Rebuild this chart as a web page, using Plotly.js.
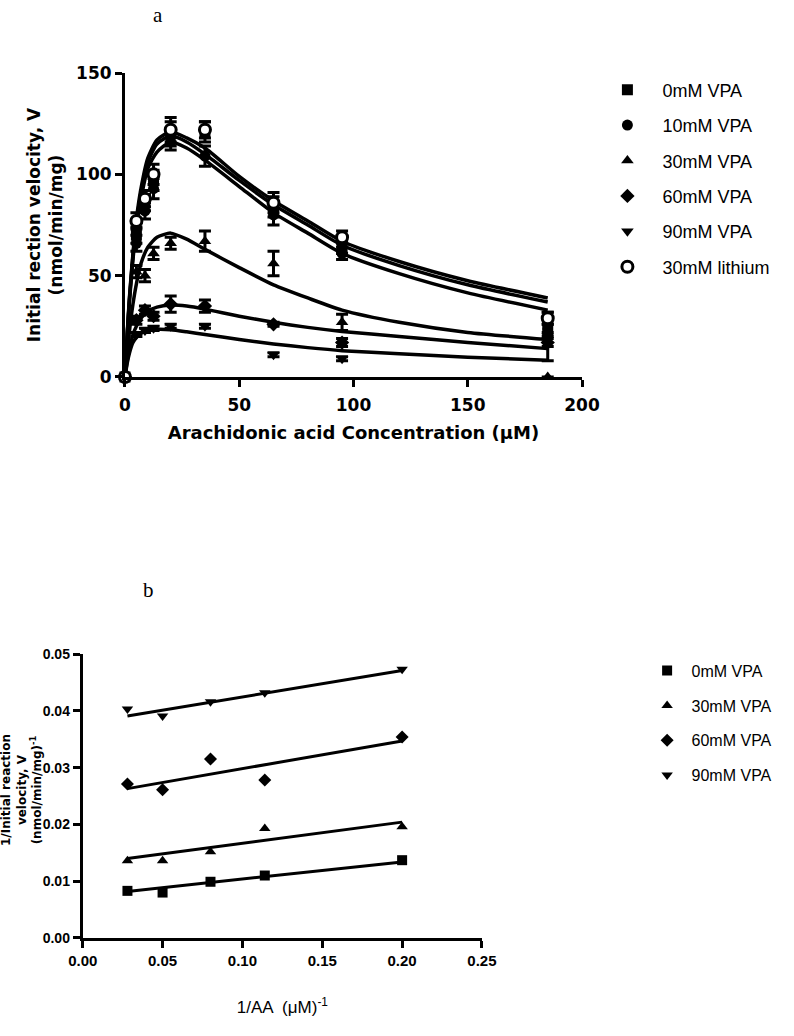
<!DOCTYPE html>
<html>
<head>
<meta charset="utf-8">
<script src="https://cdn.plot.ly/plotly-3.0.1.min.js"></script>
<style>
  body { margin: 0; background: #fff; }
  #chart { width: 794px; height: 1036px; }
</style>
</head>
<body>
<div id="chart"></div>
<script>
// Panel a: velocity vs arachidonic acid concentration (uM)
let conc = [0, 5, 8.75, 12.5, 20, 35, 65, 95, 185];

let v0 = [0, 70, 86, 97, 120, 121, 84, 64, 26];
let e0 = [0, 4, 4, 5, 6, 5, 5, 3, 4];
let v10 = [0, 66, 82, 93, 116, 109, 80, 61, 23];
let e10 = [0, 4, 4, 5, 4, 5, 5, 3, 3];
let v30 = [0, 52, 50, 61, 66, 67, 56, 27, 0];
let e30 = [0, 3, 3, 3, 3, 5, 6, 4, 0];
let v60 = [0, 28, 33, 30, 36, 35, 26, 17, 17];
let e60 = [0, 2, 2, 2, 4, 3, 1, 2, 2];
let v90 = [0, 21, 23, 24, 25, 25, 11, 9, 20];
let e90 = [0, 1, 1, 1, 1, 1, 1, 1, 12];
let vLi = [0, 77, 88, 100, 122, 122, 86, 69, 29];
let eLi = [0, 4, 4, 5, 6, 4, 5, 3, 3];

// fitted curves
let curveX = [0, 1, 2, 3.5, 5, 7, 10, 14, 20, 27, 35, 50, 65, 80, 95, 120, 150, 185];
let fitLi = [0, 22, 40, 61, 78, 93, 108, 117, 121, 118, 113, 99, 87, 77, 67, 57, 47.5, 39];
let fit0 = [0, 21, 39, 60, 76, 91, 106, 115, 119, 116, 110, 97, 85, 75, 65, 55, 45.5, 37];
let fit10 = [0, 21, 38, 58, 74, 88, 103, 111, 116, 113, 107, 94, 81, 71, 61, 51, 41.5, 33];
let fit30 = [0, 12, 23, 36, 46, 56, 64, 69, 71, 68, 63, 54, 45.5, 39, 33, 27, 22, 18.5];
let fit60 = [0, 8, 14, 21, 25, 29, 32.5, 34.5, 35.5, 35, 33.5, 30, 27, 24.5, 22.5, 20, 17, 14];
let fit90 = [0, 7, 12, 17, 19.5, 21.5, 23, 23.5, 23.3, 22.3, 21, 18.5, 16.3, 14.5, 13, 11.5, 9.8, 8.3];

// Panel b: double reciprocal plot
let recipX = [0.028, 0.05, 0.08, 0.114, 0.2];
let r0 = [0.0083, 0.0080, 0.0099, 0.0110, 0.0137];
let r30 = [0.0136, 0.0136, 0.0152, 0.0193, 0.0196];
let r60 = [0.0271, 0.0261, 0.0315, 0.0278, 0.0354];
let r90 = [0.0403, 0.0391, 0.0416, 0.0432, 0.0473];

let lineX = [0.028, 0.2];
let line0 = [0.0082, 0.0134];
let line30 = [0.0140, 0.0204];
let line60 = [0.0263, 0.0347];
let line90 = [0.0391, 0.0471];

function pts(name, y, err, symbol, open) {
  return {
    x: conc, y: y, name: '\u00a0\u00a0\u00a0' + name,
    type: 'scatter', mode: 'markers', cliponaxis: false,
    legend: 'legend', legendgroup: name,
    marker: {symbol: symbol, size: 11, color: open ? '#fff' : '#000',
             line: {color: '#000', width: open ? 3 : 0}},
    error_y: {type: 'data', array: err, color: '#000', thickness: 3, width: 6},
    xaxis: 'x', yaxis: 'y'
  };
}

function curve(y) {
  return {
    x: curveX, y: y, type: 'scatter', mode: 'lines', showlegend: false,
    line: {color: '#000', width: 3.5, shape: 'spline', smoothing: 0.6},
    xaxis: 'x', yaxis: 'y', hoverinfo: 'skip'
  };
}

function rpts(name, y, symbol) {
  return {
    x: recipX, y: y, name: '\u00a0' + name,
    type: 'scatter', mode: 'markers', cliponaxis: false,
    legend: 'legend2', legendgroup: 'b' + name,
    marker: {symbol: symbol, size: 10, color: '#000'},
    xaxis: 'x2', yaxis: 'y2'
  };
}

function rline(y) {
  return {
    x: lineX, y: y, type: 'scatter', mode: 'lines', showlegend: false,
    line: {color: '#000', width: 3},
    xaxis: 'x2', yaxis: 'y2', hoverinfo: 'skip'
  };
}

var data = [
  curve(fitLi), curve(fit0), curve(fit10), curve(fit30), curve(fit60), curve(fit90),
  pts('0mM VPA', v0, e0, 'square'),
  pts('10mM VPA', v10, e10, 'circle'),
  pts('30mM VPA', v30, e30, 'triangle-up'),
  pts('60mM VPA', v60, e60, 'diamond'),
  pts('90mM VPA', v90, e90, 'triangle-down'),
  pts('30mM lithium', vLi, eLi, 'circle', true),
  rline(line0), rline(line30), rline(line60), rline(line90),
  rpts('0mM VPA', r0, 'square'),
  rpts('30mM VPA', r30, 'triangle-up'),
  rpts('60mM VPA', r60, 'diamond'),
  rpts('90mM VPA', r90, 'triangle-down')
];

var boldA = {family: 'DejaVu Sans, Liberation Sans, sans-serif', size: 17, color: '#000', weight: 'bold'};
var boldB = {family: 'Liberation Sans, Arial, sans-serif', size: 14, color: '#000', weight: 'bold'};

var axisStyle = {
  showline: true, linewidth: 3, linecolor: '#000',
  ticks: 'outside', ticklen: 7, tickwidth: 3, tickcolor: '#000',
  showgrid: false, zeroline: false, fixedrange: true
};

var layout = {
  width: 794, height: 1036,
  margin: {l: 0, r: 0, t: 0, b: 0},
  paper_bgcolor: '#fff', plot_bgcolor: '#fff',
  font: {family: 'Liberation Sans, Arial, sans-serif', color: '#000'},
  xaxis: Object.assign({}, axisStyle, {
    domain: [0.1574, 0.733], anchor: 'y', range: [0, 200], dtick: 50,
    tickfont: boldA, ticklabelstandoff: 4,
    title: {text: 'Arachidonic acid Concentration (\u03bcM)', font: Object.assign({}, boldA, {size: 18}), standoff: 12}
  }),
  yaxis: Object.assign({}, axisStyle, {
    domain: [0.6361, 0.9295], anchor: 'x', range: [0, 150], dtick: 50,
    tickfont: boldA,
    title: {text: 'Initial rection velocity, V<br>(nmol/min/mg)', font: boldA, standoff: 10}
  }),
  xaxis2: Object.assign({}, axisStyle, {
    domain: [0.1042, 0.607], anchor: 'y2', range: [0, 0.25], dtick: 0.05, tickformat: '.2f',
    tickfont: Object.assign({}, boldB, {size: 15}),
    title: {text: '1/AA  (\u03bcM)<sup>-1</sup>', standoff: 34,
            font: {family: 'Liberation Sans, Arial, sans-serif', size: 17, color: '#000'}}
  }),
  yaxis2: Object.assign({}, axisStyle, {
    domain: [0.0946, 0.3687], anchor: 'x2', range: [0, 0.05], dtick: 0.01, tickformat: '.2f',
    tickfont: boldB, ticklabelstandoff: 0
  }),
  showlegend: true,
  legend: {
    x: 0.765, y: 0.931, xanchor: 'left', yanchor: 'top',
    font: {family: 'Liberation Sans, Arial, sans-serif', size: 18, color: '#000'},
    tracegroupgap: 9, bgcolor: 'rgba(0,0,0,0)', itemclick: false
  },
  legend2: {
    x: 0.815, y: 0.369, xanchor: 'left', yanchor: 'top',
    font: {family: 'Liberation Sans, Arial, sans-serif', size: 16, color: '#000'},
    tracegroupgap: 11, bgcolor: 'rgba(0,0,0,0)', itemclick: false
  },
  annotations: [
    {text: 'a', xref: 'paper', yref: 'paper', x: 158 / 794, y: 1 - 15 / 1036,
     xanchor: 'center', yanchor: 'middle', showarrow: false,
     font: {family: 'Liberation Serif, Times New Roman, serif', size: 21, color: '#000'}},
    {text: 'b', xref: 'paper', yref: 'paper', x: 148 / 794, y: 1 - 590 / 1036,
     xanchor: 'center', yanchor: 'middle', showarrow: false,
     font: {family: 'Liberation Serif, Times New Roman, serif', size: 21, color: '#000'}},
    {text: '1/Initial reaction<br>velocity, V<br>(nmol/min/mg)<sup>-1</sup>',
     xref: 'paper', yref: 'paper', x: 21 / 794, y: 1 - 790 / 1036,
     xanchor: 'center', yanchor: 'middle', textangle: -90, showarrow: false,
     font: {family: 'DejaVu Sans, Liberation Sans, sans-serif', size: 12, color: '#000', weight: 'bold'}}
  ]
};

Plotly.newPlot('chart', data, layout, {displayModeBar: false, staticPlot: true});
</script>
</body>
</html>
